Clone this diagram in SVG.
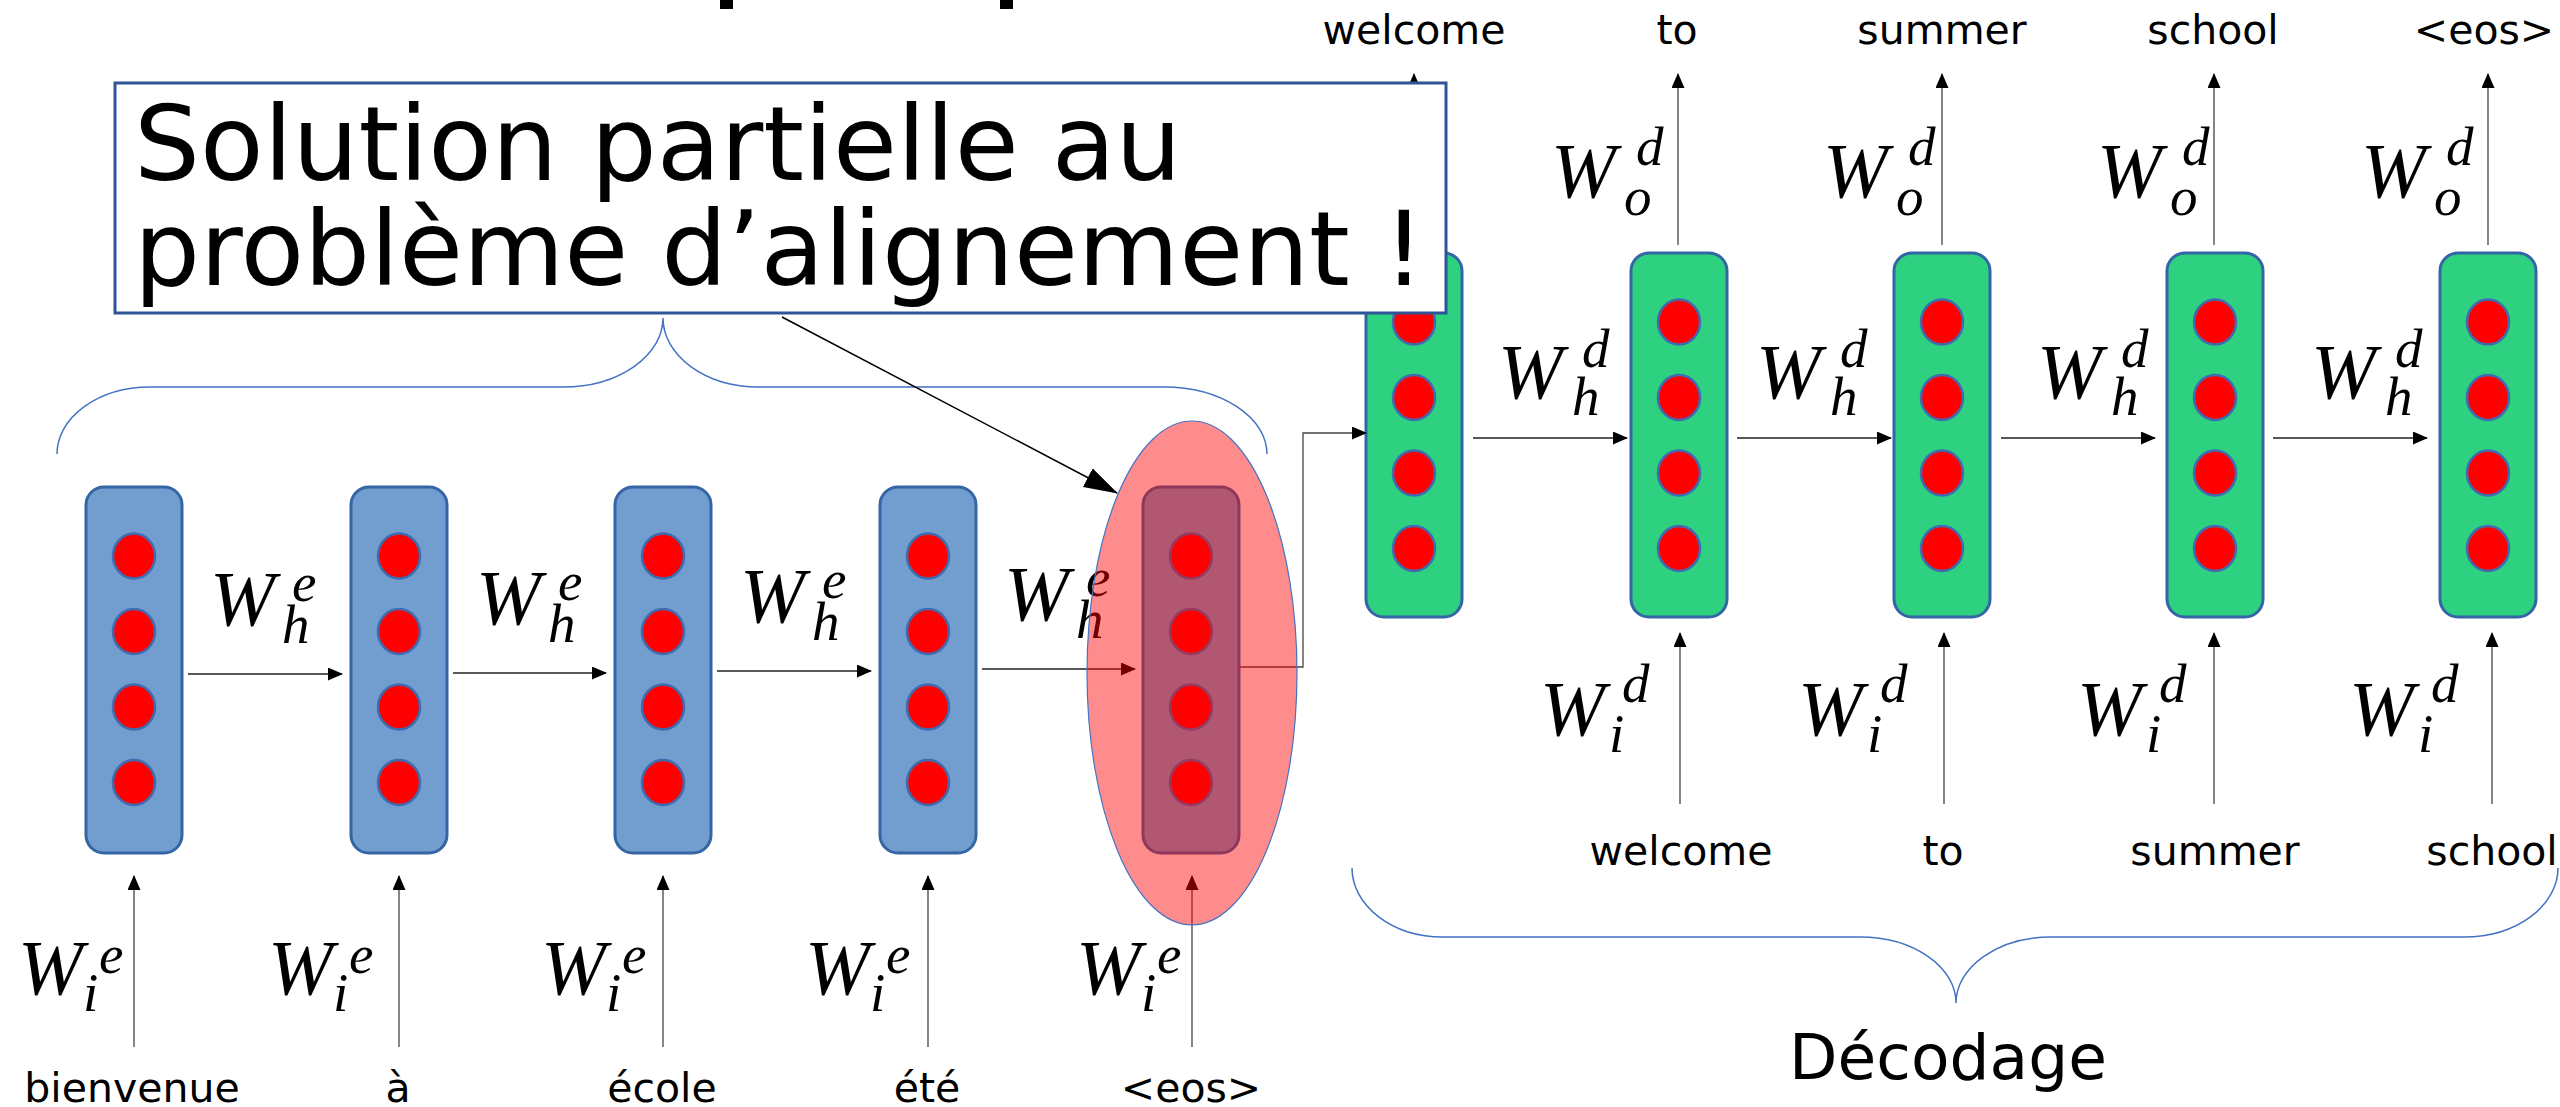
<svg xmlns="http://www.w3.org/2000/svg" width="2560" height="1107" viewBox="0 0 2560 1107">
<defs>
<style>
.enc{fill:#719ECE;stroke:#3465A4;stroke-width:3}
.dec{fill:#2ED180;stroke:#3465A4;stroke-width:3}
.dot{fill:#FF0000;stroke:#3F6BB0;stroke-width:2.5}
.arr{fill:none;stroke:#222;stroke-width:1.5;marker-end:url(#ah)}
.varr{fill:none;stroke:#444;stroke-width:1.3;marker-end:url(#ah)}
.brace{fill:none;stroke:#4472C4;stroke-width:1.5}
.mw{font-family:"Liberation Serif","Times New Roman",serif;font-style:italic;font-size:78px;fill:#000}
.ms{font-size:55px}
.word{font-family:"DejaVu Sans",sans-serif;font-size:41px;fill:#000;text-anchor:middle}
.big{font-family:"DejaVu Sans",sans-serif;font-size:104px;fill:#000}
</style>
<marker id="ah" viewBox="0 0 15 13" refX="14" refY="6.5" markerWidth="15" markerHeight="13" markerUnits="userSpaceOnUse" orient="auto"><path d="M0,0 L15,6.5 L0,13 z" fill="#000"/></marker>
<marker id="ahBig" viewBox="0 0 34 21" refX="33" refY="10.5" markerWidth="34" markerHeight="21" markerUnits="userSpaceOnUse" orient="auto"><path d="M0,0 L34,10.5 L0,21 z" fill="#000"/></marker>
<g id="dots">
<ellipse class="dot" cx="0" cy="69" rx="21" ry="22.5"/>
<ellipse class="dot" cx="0" cy="144.5" rx="21" ry="22.5"/>
<ellipse class="dot" cx="0" cy="220" rx="21" ry="22.5"/>
<ellipse class="dot" cx="0" cy="295.5" rx="21" ry="22.5"/>
</g>
</defs>
<rect width="2560" height="1107" fill="#fff"/>

<g id="title-fragment" fill="#000">
<rect x="720" y="0" width="13" height="9"/>
<rect x="1000" y="0" width="13" height="9"/>
</g>

<g id="braces">
<path class="brace" d="M57,454 A93,67 0 0 1 150,387 L563,387 A100,69 0 0 0 663,318 A96,69 0 0 0 759,387 L1164,387 A103,67 0 0 1 1267,454"/>
<path class="brace" d="M1352,868 A91,69 0 0 0 1443,937 L1860,937 A96,66 0 0 1 1956,1003 A95,66 0 0 1 2051,937 L2464,937 A94,69 0 0 0 2558,868"/>
</g>

<g id="encoder">
<g id="enc1"><rect class="enc" x="86" y="487" width="96" height="366" rx="18"/><use href="#dots" x="134" y="487"/></g>
<g id="enc2"><rect class="enc" x="351" y="487" width="96" height="366" rx="18"/><use href="#dots" x="399" y="487"/></g>
<g id="enc3"><rect class="enc" x="615" y="487" width="96" height="366" rx="18"/><use href="#dots" x="663" y="487"/></g>
<g id="enc4"><rect class="enc" x="880" y="487" width="96" height="366" rx="18"/><use href="#dots" x="928" y="487"/></g>
<g id="enc5"><rect class="enc" x="1143" y="487" width="96" height="366" rx="18"/><use href="#dots" x="1191" y="487"/></g>
</g>

<g id="decoder">
<g id="dec1"><rect class="dec" x="1366" y="253" width="96" height="364" rx="18"/><use href="#dots" x="1414" y="253"/></g>
<g id="dec2"><rect class="dec" x="1631" y="253" width="96" height="364" rx="18"/><use href="#dots" x="1679" y="253"/></g>
<g id="dec3"><rect class="dec" x="1894" y="253" width="96" height="364" rx="18"/><use href="#dots" x="1942" y="253"/></g>
<g id="dec4"><rect class="dec" x="2167" y="253" width="96" height="364" rx="18"/><use href="#dots" x="2215" y="253"/></g>
<g id="dec5"><rect class="dec" x="2440" y="253" width="96" height="364" rx="18"/><use href="#dots" x="2488" y="253"/></g>
</g>

<g id="connectors">
<line class="arr" x1="188" y1="674" x2="342" y2="674"/>
<line class="arr" x1="453" y1="673" x2="606" y2="673"/>
<line class="arr" x1="717" y1="671" x2="871" y2="671"/>
<line class="arr" x1="982" y1="669" x2="1135" y2="669"/>
<line class="varr" x1="134" y1="1047" x2="134" y2="876"/>
<line class="varr" x1="399" y1="1047" x2="399" y2="876"/>
<line class="varr" x1="663" y1="1047" x2="663" y2="876"/>
<line class="varr" x1="928" y1="1047" x2="928" y2="876"/>
<line class="varr" x1="1192" y1="1047" x2="1192" y2="876"/>
<polyline class="varr" points="1240,667 1303,667 1303,433 1366,433"/>
<line class="arr" x1="1473" y1="438" x2="1627" y2="438"/>
<line class="arr" x1="1737" y1="438" x2="1891" y2="438"/>
<line class="arr" x1="2001" y1="438" x2="2155" y2="438"/>
<line class="arr" x1="2273" y1="438" x2="2427" y2="438"/>
<line class="varr" x1="1414" y1="245" x2="1414" y2="74"/>
<line class="varr" x1="1678" y1="245" x2="1678" y2="74"/>
<line class="varr" x1="1942" y1="245" x2="1942" y2="74"/>
<line class="varr" x1="2214" y1="245" x2="2214" y2="74"/>
<line class="varr" x1="2488" y1="245" x2="2488" y2="74"/>
<line class="varr" x1="1680" y1="804" x2="1680" y2="633"/>
<line class="varr" x1="1944" y1="804" x2="1944" y2="633"/>
<line class="varr" x1="2214" y1="804" x2="2214" y2="633"/>
<line class="varr" x1="2492" y1="804" x2="2492" y2="633"/>
</g>

<g id="edge-labels">
<text class="mw" x="210" y="625">W<tspan class="ms" x="292" y="601">e</tspan><tspan class="ms" x="282" y="643">h</tspan></text>
<text class="mw" x="476" y="624">W<tspan class="ms" x="558" y="600">e</tspan><tspan class="ms" x="548" y="642">h</tspan></text>
<text class="mw" x="740" y="622">W<tspan class="ms" x="822" y="598">e</tspan><tspan class="ms" x="812" y="640">h</tspan></text>
<text class="mw" x="1004" y="620">W<tspan class="ms" x="1086" y="596">e</tspan><tspan class="ms" x="1076" y="638">h</tspan></text>

<text class="mw" x="18" y="994">W<tspan class="ms" x="99" y="973">e</tspan><tspan class="ms" x="83" y="1011">i</tspan></text>
<text class="mw" x="268" y="994">W<tspan class="ms" x="349" y="973">e</tspan><tspan class="ms" x="333" y="1011">i</tspan></text>
<text class="mw" x="541" y="994">W<tspan class="ms" x="622" y="973">e</tspan><tspan class="ms" x="606" y="1011">i</tspan></text>
<text class="mw" x="805" y="994">W<tspan class="ms" x="886" y="973">e</tspan><tspan class="ms" x="870" y="1011">i</tspan></text>
<text class="mw" x="1076" y="994">W<tspan class="ms" x="1157" y="973">e</tspan><tspan class="ms" x="1141" y="1011">i</tspan></text>

<text class="mw" x="1498" y="398">W<tspan class="ms" x="1582" y="367">d</tspan><tspan class="ms" x="1572" y="415">h</tspan></text>
<text class="mw" x="1756" y="398">W<tspan class="ms" x="1840" y="367">d</tspan><tspan class="ms" x="1830" y="415">h</tspan></text>
<text class="mw" x="2037" y="398">W<tspan class="ms" x="2121" y="367">d</tspan><tspan class="ms" x="2111" y="415">h</tspan></text>
<text class="mw" x="2311" y="398">W<tspan class="ms" x="2395" y="367">d</tspan><tspan class="ms" x="2385" y="415">h</tspan></text>

<text class="mw" x="1551" y="197">W<tspan class="ms" x="1636" y="165">d</tspan><tspan class="ms" x="1624" y="215">o</tspan></text>
<text class="mw" x="1823" y="197">W<tspan class="ms" x="1908" y="165">d</tspan><tspan class="ms" x="1896" y="215">o</tspan></text>
<text class="mw" x="2097" y="197">W<tspan class="ms" x="2182" y="165">d</tspan><tspan class="ms" x="2170" y="215">o</tspan></text>
<text class="mw" x="2361" y="197">W<tspan class="ms" x="2446" y="165">d</tspan><tspan class="ms" x="2434" y="215">o</tspan></text>

<text class="mw" x="1540" y="735">W<tspan class="ms" x="1622" y="702">d</tspan><tspan class="ms" x="1609" y="752">i</tspan></text>
<text class="mw" x="1798" y="735">W<tspan class="ms" x="1880" y="702">d</tspan><tspan class="ms" x="1867" y="752">i</tspan></text>
<text class="mw" x="2077" y="735">W<tspan class="ms" x="2159" y="702">d</tspan><tspan class="ms" x="2146" y="752">i</tspan></text>
<text class="mw" x="2349" y="735">W<tspan class="ms" x="2431" y="702">d</tspan><tspan class="ms" x="2418" y="752">i</tspan></text>
</g>

<g id="words">
<text class="word" x="132" y="1102">bienvenue</text>
<text class="word" x="398" y="1102">à</text>
<text class="word" x="662" y="1102">école</text>
<text class="word" x="927" y="1102">été</text>
<text class="word" x="1191" y="1102">&lt;eos&gt;</text>
<text class="word" x="1414" y="44">welcome</text>
<text class="word" x="1677" y="44">to</text>
<text class="word" x="1942" y="44">summer</text>
<text class="word" x="2213" y="44">school</text>
<text class="word" x="2484" y="44">&lt;eos&gt;</text>
<text class="word" x="1681" y="865">welcome</text>
<text class="word" x="1943" y="865">to</text>
<text class="word" x="2215" y="865">summer</text>
<text class="word" x="2492" y="865">school</text>
<text class="word" x="1948" y="1079" style="font-size:63px">Décodage</text>
</g>

<g id="highlight">
<ellipse cx="1192" cy="673" rx="105" ry="252" fill="#FF0000" fill-opacity="0.45" stroke="#4472C4" stroke-width="1.2"/>
</g>

<g id="pointer">
<line x1="782" y1="317" x2="1117" y2="493" stroke="#000" stroke-width="1.5" marker-end="url(#ahBig)"/>
</g>

<g id="callout">
<rect x="115" y="83" width="1331" height="230" fill="#fff" stroke="#2F5597" stroke-width="3"/>
<text class="big" x="134" y="180">Solution partielle au</text>
<text class="big" x="134" y="285">problème d’alignement !</text>
</g>
</svg>
